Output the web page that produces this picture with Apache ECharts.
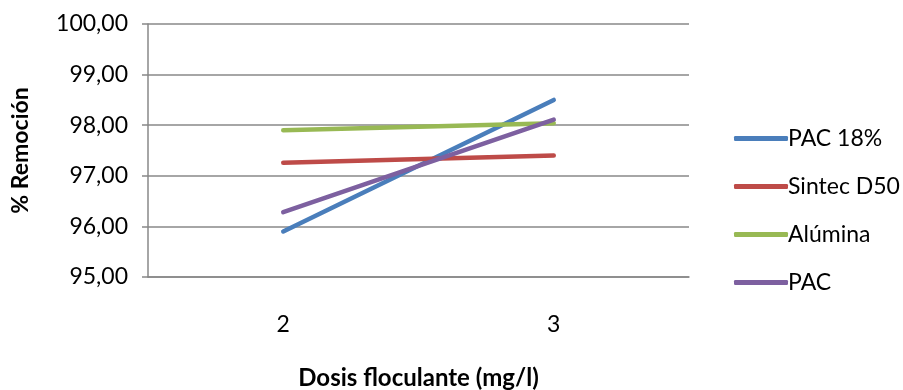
<!DOCTYPE html>
<html><head><meta charset="utf-8">
<script src="https://cdn.jsdelivr.net/npm/echarts@6/dist/echarts.min.js"></script>
<style>html,body{margin:0;padding:0;background:#fff}#c{width:903px;height:390px}</style>
</head><body><div id="c"></div>
<script>
const categories = ['2', '3'];
const pac18 = [95.90, 98.50];
const sintec = [97.26, 97.40];
const alumina = [97.90, 98.04];
const pac = [96.28, 98.11];
const seriesNames = ['PAC 18%', 'Sintec D50', 'Alúmina', 'PAC'];
const colors = ['#4a7ebb', '#be4b48', '#98b954', '#7d60a0'];
const FONT = 'Lato';
const chart = echarts.init(document.getElementById('c'));
const dataSets = [pac18, sintec, alumina, pac];
chart.setOption({
  animation: false,
  grid: {left: 148, right: 214, top: 24, bottom: 113, containLabel: false, outerBoundsMode: 'none'},
  legend: {
    orient: 'vertical', left: 729, top: 122,
    icon: 'roundRect',
    itemWidth: 54, itemHeight: 5, itemGap: 25,
    data: seriesNames,
    textStyle: {fontFamily: FONT, fontSize: 23, color: '#000', padding: [0,0,0,-5]}
  },
  xAxis: {
    type: 'category', data: categories, boundaryGap: true,
    name: 'Dosis floculante (mg/l)', nameLocation: 'middle', nameGap: 89,
    nameTextStyle: {fontFamily: FONT, fontSize: 24, fontWeight: 'bold', color: '#000'},
    axisLine: {lineStyle: {color: '#888', width: 1.5}},
    axisTick: {show: false},
    axisLabel: {fontFamily: FONT, fontSize: 23, color: '#000', margin: 36}
  },
  yAxis: {
    type: 'value', min: 95, max: 100, interval: 1,
    name: '% Remoción', nameLocation: 'middle', nameGap: 116,
    nameTextStyle: {fontFamily: FONT, fontSize: 23, fontWeight: 'bold', color: '#000'},
    axisLine: {show: true, lineStyle: {color: '#888', width: 1.5}},
    axisTick: {show: true, length: 6, lineStyle: {color: '#888', width: 1.5}},
    splitLine: {lineStyle: {color: '#888', width: 1.5}},
    axisLabel: {fontFamily: FONT, fontSize: 23, color: '#000', margin: 20,
      formatter: v => v.toFixed(2).replace('.', ',')}
  },
  series: dataSets.map((d, i) => ({
    name: seriesNames[i], type: 'line', data: d, symbol: 'none',
    lineStyle: {width: 4.5, color: colors[i], cap: 'round'},
    itemStyle: {color: colors[i]}
  }))
});
</script></body></html>
